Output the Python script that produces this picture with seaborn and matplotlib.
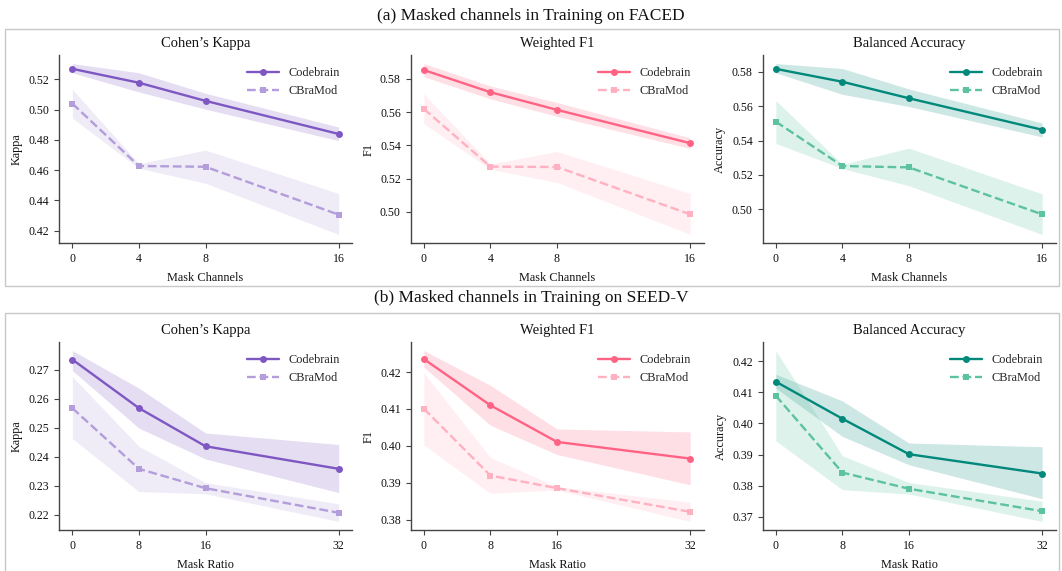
import numpy as np
import pandas as pd
import matplotlib
matplotlib.use("Agg")
import matplotlib.pyplot as plt
from matplotlib.patches import Rectangle
import seaborn as sns

sns.set_style("ticks")
plt.rcParams["font.family"] = ["Liberation Serif", "DejaVu Serif"]
plt.rcParams["axes.edgecolor"] = "#444444"
plt.rcParams["axes.linewidth"] = 1.0
plt.rcParams["xtick.color"] = "#444444"
plt.rcParams["ytick.color"] = "#444444"
plt.rcParams["xtick.labelcolor"] = "#111111"
plt.rcParams["ytick.labelcolor"] = "#111111"

# ---- data -------------------------------------------------------------
models = ["Codebrain", "CBraMod"]
metric_titles = ["Cohen’s Kappa", "Weighted F1", "Balanced Accuracy"]
metric_ylabels = ["Kappa", "F1", "Accuracy"]
row_titles = ["(a) Masked channels in Training on FACED",
              "(b) Masked channels in Training on SEED-V"]
row_xlabels = ["Mask Channels", "Mask Ratio"]

faced_x = [0, 4, 8, 16]
seedv_x = [0, 8, 16, 32]

# FACED: mean, lower, upper per model
faced_kappa_codebrain = [0.5270, 0.5178, 0.5058, 0.4839]
faced_kappa_codebrain_lo = [0.5244, 0.5117, 0.5003, 0.4795]
faced_kappa_codebrain_hi = [0.5305, 0.5244, 0.5108, 0.4885]
faced_kappa_cbramod = [0.5040, 0.4627, 0.4622, 0.4305]
faced_kappa_cbramod_lo = [0.4944, 0.4612, 0.4513, 0.4174]
faced_kappa_cbramod_hi = [0.5134, 0.4642, 0.4732, 0.4445]

faced_f1_codebrain = [0.5852, 0.5719, 0.5613, 0.5413]
faced_f1_codebrain_lo = [0.5812, 0.5679, 0.5574, 0.5381]
faced_f1_codebrain_hi = [0.5891, 0.5756, 0.5657, 0.5445]
faced_f1_cbramod = [0.5619, 0.5272, 0.5270, 0.4986]
faced_f1_cbramod_lo = [0.5530, 0.5256, 0.5177, 0.4865]
faced_f1_cbramod_hi = [0.5709, 0.5288, 0.5363, 0.5111]

faced_acc_codebrain = [0.5817, 0.5742, 0.5646, 0.5463]
faced_acc_codebrain_lo = [0.5794, 0.5669, 0.5598, 0.5421]
faced_acc_codebrain_hi = [0.5848, 0.5819, 0.5700, 0.5502]
faced_acc_cbramod = [0.5510, 0.5252, 0.5244, 0.4971]
faced_acc_cbramod_lo = [0.5383, 0.5237, 0.5137, 0.4854]
faced_acc_cbramod_hi = [0.5633, 0.5262, 0.5356, 0.5090]

# SEED-V
seedv_kappa_codebrain = [0.2736, 0.2568, 0.2436, 0.2358]
seedv_kappa_codebrain_lo = [0.2698, 0.2499, 0.2392, 0.2276]
seedv_kappa_codebrain_hi = [0.2767, 0.2637, 0.2482, 0.2442]
seedv_kappa_cbramod = [0.2568, 0.2358, 0.2291, 0.2206]
seedv_kappa_cbramod_lo = [0.2463, 0.2279, 0.2272, 0.2176]
seedv_kappa_cbramod_hi = [0.2677, 0.2436, 0.2310, 0.2237]

seedv_f1_codebrain = [0.4235, 0.4110, 0.4011, 0.3966]
seedv_f1_codebrain_lo = [0.4213, 0.4056, 0.3977, 0.3895]
seedv_f1_codebrain_hi = [0.4258, 0.4164, 0.4046, 0.4038]
seedv_f1_cbramod = [0.4101, 0.3920, 0.3886, 0.3822]
seedv_f1_cbramod_lo = [0.4003, 0.3872, 0.3881, 0.3796]
seedv_f1_cbramod_hi = [0.4198, 0.3969, 0.3890, 0.3848]

seedv_acc_codebrain = [0.4134, 0.4015, 0.3901, 0.3839]
seedv_acc_codebrain_lo = [0.4113, 0.3958, 0.3867, 0.3758]
seedv_acc_codebrain_hi = [0.4158, 0.4072, 0.3937, 0.3925]
seedv_acc_cbramod = [0.4089, 0.3842, 0.3790, 0.3718]
seedv_acc_cbramod_lo = [0.3944, 0.3787, 0.3773, 0.3685]
seedv_acc_cbramod_hi = [0.4234, 0.3896, 0.3810, 0.3750]

# colours per metric: (Codebrain, CBraMod)
metric_colors = [("#7E57C2", "#B39DDB"),
                 ("#FF6384", "#FFB1C1"),
                 ("#00897B", "#5CC2A0")]

rows = [
    (faced_x, [
        ((faced_kappa_codebrain, faced_kappa_codebrain_lo, faced_kappa_codebrain_hi),
         (faced_kappa_cbramod, faced_kappa_cbramod_lo, faced_kappa_cbramod_hi)),
        ((faced_f1_codebrain, faced_f1_codebrain_lo, faced_f1_codebrain_hi),
         (faced_f1_cbramod, faced_f1_cbramod_lo, faced_f1_cbramod_hi)),
        ((faced_acc_codebrain, faced_acc_codebrain_lo, faced_acc_codebrain_hi),
         (faced_acc_cbramod, faced_acc_cbramod_lo, faced_acc_cbramod_hi)),
    ]),
    (seedv_x, [
        ((seedv_kappa_codebrain, seedv_kappa_codebrain_lo, seedv_kappa_codebrain_hi),
         (seedv_kappa_cbramod, seedv_kappa_cbramod_lo, seedv_kappa_cbramod_hi)),
        ((seedv_f1_codebrain, seedv_f1_codebrain_lo, seedv_f1_codebrain_hi),
         (seedv_f1_cbramod, seedv_f1_cbramod_lo, seedv_f1_cbramod_hi)),
        ((seedv_acc_codebrain, seedv_acc_codebrain_lo, seedv_acc_codebrain_hi),
         (seedv_acc_cbramod, seedv_acc_cbramod_lo, seedv_acc_cbramod_hi)),
    ]),
]

# ---- layout (pixel geometry on a 1062x571 canvas) ----------------------
W, H = 1062, 571
fig = plt.figure(figsize=(W / 100, H / 100), dpi=100)

ax_lefts = [59, 410.5, 762.5]
ax_w = 293
ax_tops = [55, 342]
ax_h = 188

def fbox(x0, y_top, w, h):
    return [x0 / W, 1 - (y_top + h) / H, w / W, h / H]

# grey frames around each row
fig.add_artist(Rectangle((5 / W, 1 - 286 / H), 1054 / W, 257 / H,
                         transform=fig.transFigure, fill=False,
                         edgecolor="#c8c8c8", lw=1.0))
fig.add_artist(Rectangle((5 / W, 1 - 575 / H), 1054 / W, 262 / H,
                         transform=fig.transFigure, fill=False,
                         edgecolor="#c8c8c8", lw=1.0))

row_title_y = [16, 298]
for r, (xs, metrics) in enumerate(rows):
    fig.text(0.5, 1 - row_title_y[r] / H, row_titles[r], ha="center",
             va="center", fontsize=12.5, color="#111111")
    for c, (cb, cm) in enumerate(metrics):
        ax = fig.add_axes(fbox(ax_lefts[c], ax_tops[r], ax_w, ax_h))
        col_cb, col_cm = metric_colors[c]
        for (mean, lo, hi), name, col, style, marker in [
                (cb, "Codebrain", col_cb, "-", "o"),
                (cm, "CBraMod", col_cm, "--", "s")]:
            ax.fill_between(xs, lo, hi, color=col, alpha=0.2, lw=0)
            df = pd.DataFrame({"x": xs, "y": mean})
            sns.lineplot(data=df, x="x", y="y", ax=ax, color=col,
                         linestyle=style, marker=marker, markersize=5,
                         markeredgewidth=0, lw=1.7, label=name)
        ax.set_xticks(xs)
        ax.set_title(metric_titles[c], fontsize=10.5, color="#111111", pad=6)
        ax.set_xlabel(row_xlabels[r], fontsize=8.8, color="#111111", labelpad=5)
        ax.set_ylabel(metric_ylabels[c], fontsize=8.8, color="#111111")
        ax.tick_params(labelsize=8.6, length=3.5, width=0.8)
        leg = ax.legend(loc="upper right", frameon=False, fontsize=8.8,
                        handlelength=2.6, borderaxespad=0.6, labelspacing=0.5)
        sns.despine(ax=ax)

fig.savefig("out.png", dpi=100)
